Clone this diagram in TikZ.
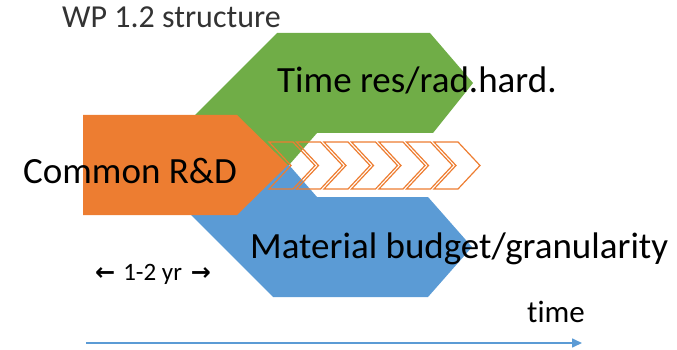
\documentclass[tikz,border=0pt]{standalone}
\usepackage{fontspec}
\setmainfont{Carlito}[Ligatures=NoCommon]
\newfontfamily\arrowfont{DejaVu Sans}
\usetikzlibrary{arrows.meta, positioning}

\definecolor{wporange}{HTML}{ED7D31}
\definecolor{wpgreen}{HTML}{70AD47}
\definecolor{wpblue}{HTML}{5B9BD5}

\begin{document}
\begin{tikzpicture}[x=1pt, y=-1pt,
        label/.style={inner sep=0pt, anchor=base west, font=\fontsize{37}{40}\selectfont},
        chevron/.style={draw=wporange, line width=1.2pt, line join=miter}]
    \useasboundingbox (0,0) rectangle (677,350);

    % branches
    \fill[wpgreen] (277,33) -- (430,33) -- (473,83) -- (433,133) -- (317,133)
        -- (289,165) -- (200,165) -- (180,130) -- cycle;
    \fill[wpblue] (273,297) -- (428,297) -- (472,247) -- (428,197) -- (317,197)
        -- (289,165) -- (200,165) -- (176,200) -- cycle;
    % common part
    \fill[wporange] (83,115) -- (237,115) -- (288,165) -- (237,215) -- (83,215) -- cycle;

    % chevrons
    \foreach \i in {0,...,6} {
        \pgfmathsetmacro{\cx}{269+27.5*\i}
        \draw[chevron] (\cx,142) -- (\cx+24,142) -- (\cx+46,165.5) -- (\cx+24,189)
            -- (\cx,189) -- (\cx+22,165.5) -- cycle;
    }

    \node[label, font=\fontsize{32}{36}\selectfont, text=black!80] (title) at (62,28) {WP 1.2 structure};
    \node[label] (timeres) at (277,93) {Time res/rad.hard.};
    \node[label] (common) at (23,183) {Common R\&D};
    \node[label] (material) at (250,258) {Material budget/granularity};
    \node[label, font=\fontsize{25}{28}\selectfont] (years) at (95,280)
        {{\arrowfont\bfseries\fontsize{24}{26}\selectfont ←}\hspace{8pt}1-2 yr\hspace{9pt}{\arrowfont\bfseries\fontsize{24}{26}\selectfont →}};
    \node[label, font=\fontsize{31}{34}\selectfont] (time) at (527,322) {time};

    % time axis
    \coordinate (t0) at (86,343);
    \coordinate (t1) at (582,343);
    \draw[wpblue, line width=1.6pt, -{Triangle[length=10pt, width=9pt]}] (t0) -- (t1);
\end{tikzpicture}
\end{document}
